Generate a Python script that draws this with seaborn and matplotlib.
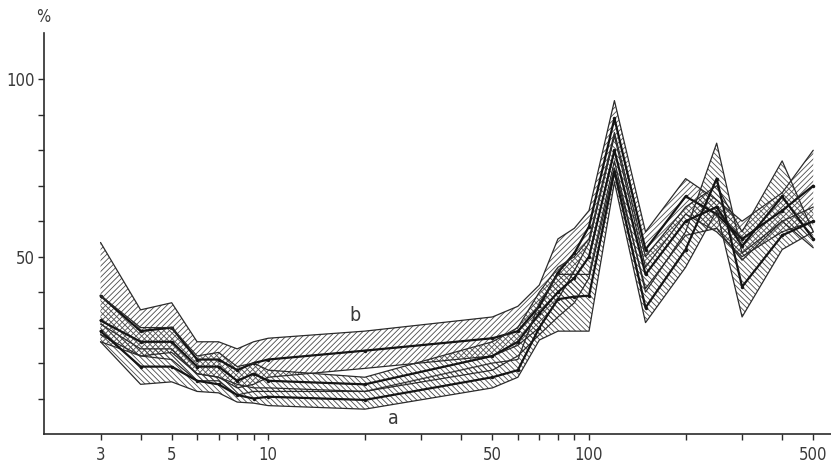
import matplotlib
matplotlib.use("Agg")
import matplotlib.pyplot as plt
import matplotlib.ticker as mticker
from matplotlib import font_manager
import seaborn as sns
import numpy as np

# ---- data ----
x_vals = [3, 4, 5, 6, 7, 8, 9, 10, 20, 50, 60, 70, 80, 90, 100, 120, 150, 200, 250, 300, 400, 500]

b_top = [54, 35, 37, 26, 26, 24, 26, 27, 29, 33, 36, 42, 55, 58, 63, 94, 57, 72, 66, 60, 68, 80]
b_mid = [39, 29, 30, 21, 21, 18, 20, 21, 23.5, 27, 29, 36, 45.5, 51, 58.5, 89, 52, 67, 62, 55, 63, 70]
b_low = [26, 22, 23, 17, 16, 13, 14, 16, 18.5, 22, 25, 30, 38, 46, 54, 84, 47, 62, 57, 50, 57, 60]

c_top = [39, 30, 30, 22, 23, 19, 20, 18, 16, 26, 30, 40, 47, 50, 55, 85, 50, 64, 70, 57, 77, 57]
c_mid = [32, 26, 26, 19, 19, 15, 17, 15, 14, 22, 26, 34, 40, 44, 50, 80, 45, 60, 64, 53, 67, 55]
c_low = [28, 22, 21, 15, 15, 11, 12, 12, 12, 18, 22, 28, 33, 37, 44, 75, 41, 56, 58, 49, 60, 52.5]

a_top = [31, 24, 24, 17, 16, 14, 13, 13, 12, 20, 21, 37, 45, 45, 45, 77, 40, 57, 82, 51, 60, 64]
a_mid = [29, 19, 19, 15, 14, 11, 10, 10.5, 9.6, 16, 18, 30, 38, 38.7, 39, 74, 35.6, 52, 72, 41.5, 56, 60]
a_low = [26, 14, 14.7, 12, 11.6, 9, 8.7, 8, 7, 13, 16, 26.5, 29, 29, 29, 71, 31.4, 47, 63, 33, 52, 57]

x_major = [3, 5, 10, 50, 100, 500]
x_major_labels = ["3", "5", "10", "50", "100", "500"]
x_minor = [4, 6, 7, 8, 9, 20, 30, 40, 60, 70, 80, 90, 200, 300, 400]
y_major = [50, 100]
y_minor = [10, 20, 30, 40, 60, 70, 80, 90]
label_a = ("a", 24.5, 4.5)
label_b = ("b", 18.7, 33.5)

# ---- style ----
sns.set_style("ticks")
names = {f.name for f in font_manager.fontManager.ttflist}
fam = ["Liberation Sans Narrow"] if "Liberation Sans Narrow" in names else []
plt.rcParams["font.family"] = fam + ["DejaVu Sans"]
plt.rcParams["font.stretch"] = "condensed"
plt.rcParams["hatch.linewidth"] = 0.6

ink = "#2b2b2b"
txt = "#3a3a3a"
fig = plt.figure(figsize=(8.31, 4.66), dpi=100)
ax = fig.add_axes([0.053, 0.0687, 0.947, 0.860])
ax.set_xscale("log")

bands = [
    (b_low, b_mid, b_top, "//////"),
    (c_low, c_mid, c_top, "\\\\\\\\\\\\"),
    (a_low, a_mid, a_top, "\\\\\\\\\\\\"),
]
for low, mid, top, hatch in bands:
    ax.fill_between(x_vals, low, top, facecolor="none", edgecolor="#4a4a4a",
                    hatch=hatch, linewidth=0)
    sns.lineplot(x=x_vals, y=top, ax=ax, color=ink, lw=0.9, estimator=None, sort=False)
    sns.lineplot(x=x_vals, y=low, ax=ax, color=ink, lw=0.9, estimator=None, sort=False)
    sns.lineplot(x=x_vals, y=mid, ax=ax, color="#151515", lw=1.6, estimator=None,
                 sort=False, marker="o", markersize=2.5, markeredgewidth=0)

ax.set_xlim(2.0, 568)
ax.set_ylim(0, 113)

ax.xaxis.set_major_locator(mticker.FixedLocator(x_major))
ax.xaxis.set_major_formatter(mticker.FixedFormatter(x_major_labels))
ax.xaxis.set_minor_locator(mticker.FixedLocator(x_minor))
ax.xaxis.set_minor_formatter(mticker.NullFormatter())
ax.yaxis.set_major_locator(mticker.FixedLocator(y_major))
ax.yaxis.set_minor_locator(mticker.FixedLocator(y_minor))
ax.yaxis.set_minor_formatter(mticker.NullFormatter())

ax.tick_params(axis="both", which="both", direction="out", length=4.5, width=1.0,
               color=ink, labelcolor=txt, labelsize=12)
ax.tick_params(axis="x", which="major", pad=4)
ax.tick_params(axis="y", which="major", pad=2)

for s in ["top", "right"]:
    ax.spines[s].set_visible(False)
for s in ["left", "bottom"]:
    ax.spines[s].set_color(ink)
    ax.spines[s].set_linewidth(1.2)

ax.set_xlabel("")
ax.set_ylabel("")

for t, xx, yy in (label_a, label_b):
    ax.text(xx, yy, t, fontsize=14, color=txt, ha="center", va="center")

fig.text(43 / 831, 1 - 17 / 466, "%", fontsize=12, color=txt, ha="center", va="center")

fig.savefig("out.png", dpi=100)
